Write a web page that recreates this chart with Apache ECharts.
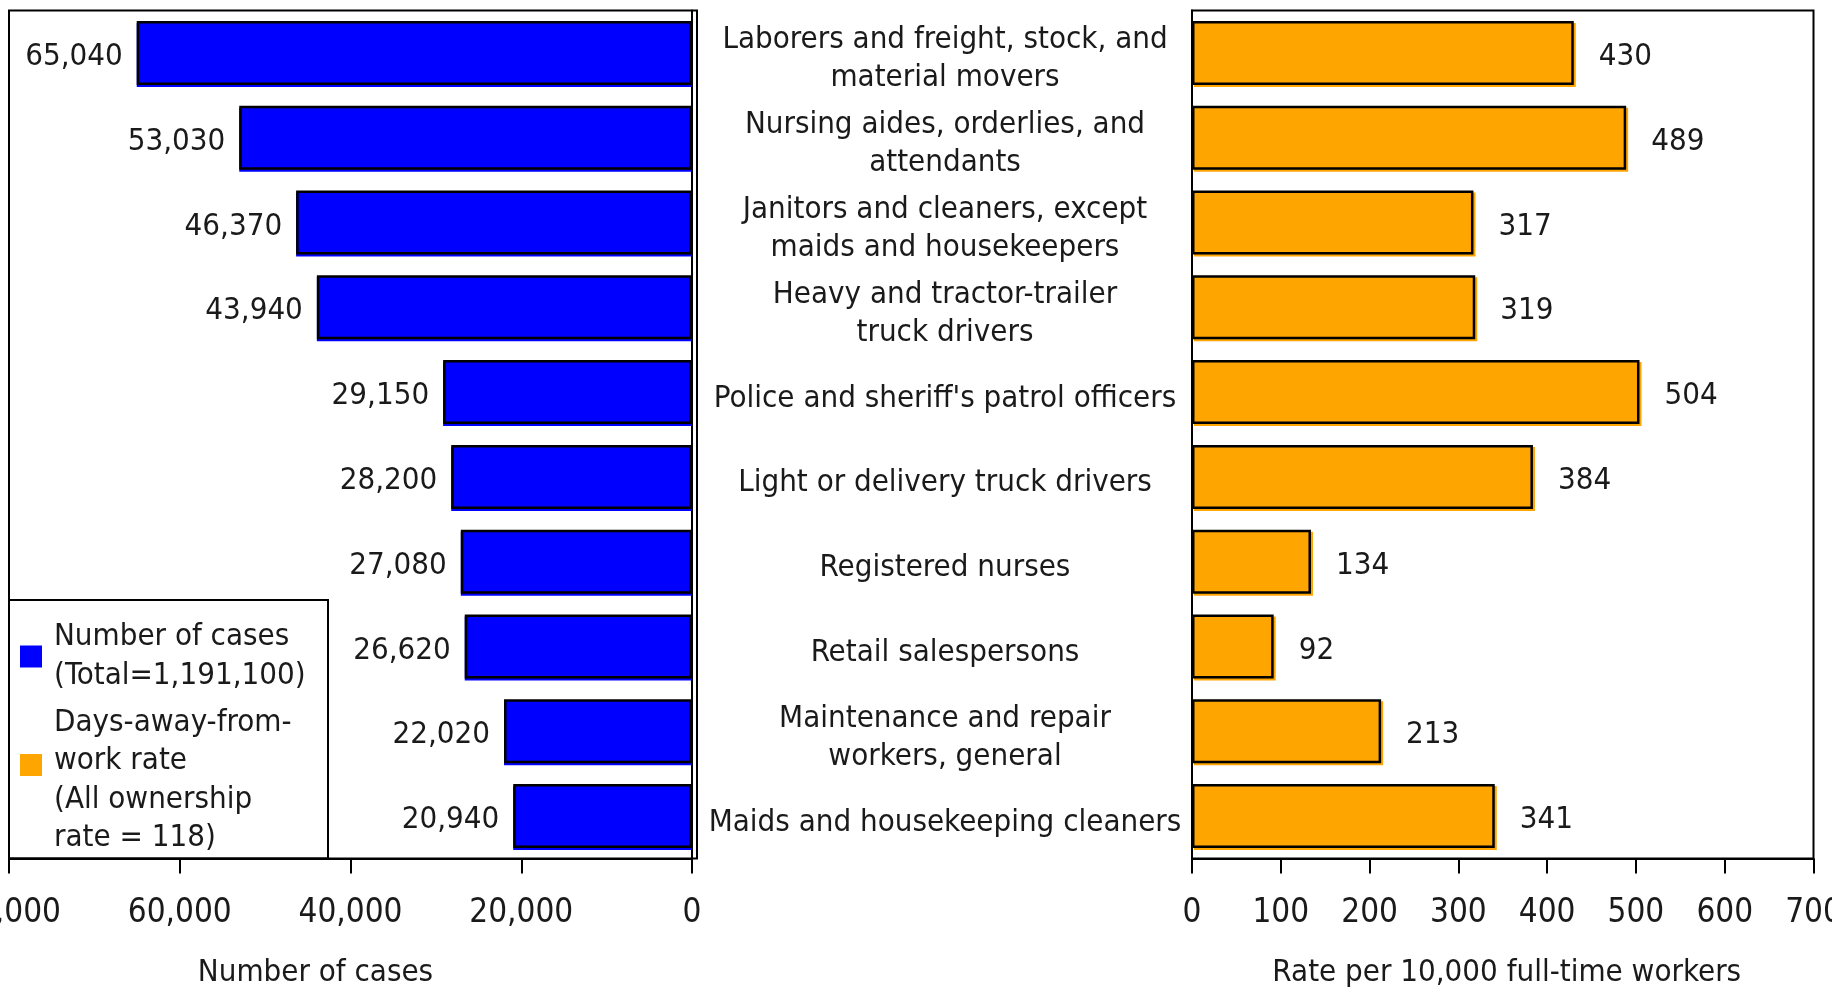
<!DOCTYPE html>
<html>
<head>
<meta charset="utf-8">
<script src="https://cdn.jsdelivr.net/npm/echarts@6/dist/echarts.min.js"></script>
<style>
html,body{margin:0;padding:0;background:#fff;}
#chart{width:1832px;height:989px;}
</style>
</head>
<body>
<div id="chart"></div>
<script>
const categories = [
  "Laborers and freight, stock, and\nmaterial movers",
  "Nursing aides, orderlies, and\nattendants",
  "Janitors and cleaners, except\nmaids and housekeepers",
  "Heavy and tractor-trailer\ntruck drivers",
  "Police and sheriff's patrol officers",
  "Light or delivery truck drivers",
  "Registered nurses",
  "Retail salespersons",
  "Maintenance and repair\nworkers, general",
  "Maids and housekeeping cleaners"
];
const casesValues = [65040, 53030, 46370, 43940, 29150, 28200, 27080, 26620, 22020, 20940];
const rateValues = [430, 489, 317, 319, 504, 384, 134, 92, 213, 341];
const seriesNames = ["Number of cases", "Days-away-from-work rate"];
const legendTexts = [
  "Number of cases\n(Total=1,191,100)",
  "Days-away-from-\nwork rate\n(All ownership\nrate = 118)"
];
const axisNames = ["Number of cases", "Rate per 10,000 full-time workers"];

const FONT = "'Liberation Sans Narrow', 'DejaVu Sans Condensed', 'Liberation Sans', sans-serif";
const TXT = '#1a1a1a';
const chart = echarts.init(document.getElementById('chart'));

const legendText = { fontSize: 31, lineHeight: 38.5, color: TXT, fontFamily: FONT, padding: [0, 0, 0, 7] };
const legendItemStyle = { borderWidth: 0, shadowBlur: 0, shadowColor: 'rgba(0,0,0,0)', shadowOffsetX: 0, shadowOffsetY: 0 };

const option = {
  animation: false,
  backgroundColor: '#fff',
  textStyle: { fontFamily: FONT, color: TXT },
  grid: [
    { left: 9, top: 10.5, width: 683, height: 848, outerBoundsMode: 'none', show: false },
    { left: 1192, top: 10.5, width: 621.5, height: 848, outerBoundsMode: 'none', show: true, borderColor: '#000', borderWidth: 2 },
    { left: 1192, top: 17, width: 621.5, height: 848, outerBoundsMode: 'none', show: false }
  ],
  xAxis: [
    {
      gridIndex: 0, type: 'value', inverse: true, min: 0, max: 80000, interval: 20000,
      axisLine: { show: true, lineStyle: { color: '#000', width: 2 } },
      axisTick: { show: true, inside: false, length: 15, lineStyle: { color: '#000', width: 2 } },
      splitLine: { show: false },
      axisLabel: { margin: 38, fontSize: 33, color: TXT, fontFamily: FONT,
        formatter: v => v.toLocaleString('en-US') },
      name: axisNames[0], nameLocation: 'middle', nameGap: 99,
      nameTextStyle: { fontSize: 31, color: TXT, fontFamily: FONT, padding: [0, 70, 0, 0] }
    },
    {
      gridIndex: 1, type: 'value', min: 0, max: 700, interval: 100,
      axisLine: { show: true, lineStyle: { color: '#000', width: 2 } },
      axisTick: { show: true, inside: false, length: 15, lineStyle: { color: '#000', width: 2 } },
      splitLine: { show: false },
      axisLabel: { margin: 38, fontSize: 33, color: TXT, fontFamily: FONT },
      name: axisNames[1], nameLocation: 'middle', nameGap: 99,
      nameTextStyle: { fontSize: 31, color: TXT, fontFamily: FONT, padding: [0, 0, 0, 8] }
    },
    {
      gridIndex: 2, type: 'value', min: 0, max: 700, show: false
    }
  ],
  yAxis: [
    {
      gridIndex: 0, type: 'category', inverse: true, position: 'right', data: categories,
      axisLine: { show: true, lineStyle: { color: '#000', width: 2 } },
      axisTick: { show: false }, axisLabel: { show: false }
    },
    {
      gridIndex: 1, type: 'category', inverse: true, position: 'left', data: categories,
      axisLine: { show: true, lineStyle: { color: '#000', width: 2 } },
      axisTick: { show: false }, axisLabel: { show: false }
    },
    {
      gridIndex: 2, type: 'category', inverse: true, position: 'left', data: categories,
      axisLine: { show: false }, axisTick: { show: false }, splitLine: { show: false },
      axisLabel: { show: true, align: 'center', margin: 247, fontSize: 31, lineHeight: 38,
        color: TXT, fontFamily: FONT, interval: 0 }
    }
  ],
  legend: [
    {
      orient: 'vertical', left: 20, top: 618, padding: 0,
      itemWidth: 22, itemHeight: 22, icon: 'rect',
      itemStyle: legendItemStyle,
      data: [seriesNames[0]],
      formatter: () => legendTexts[0],
      textStyle: legendText,
      selectedMode: false
    },
    {
      orient: 'vertical', left: 20, top: 703.5, padding: 0,
      itemWidth: 22, itemHeight: 53,
      icon: 'path://M0,0L22,0L22,22L0,22Z M0,52.9L0.02,52.9L0.02,53L0,53Z',
      itemStyle: legendItemStyle,
      data: [seriesNames[1]],
      formatter: () => legendTexts[1],
      textStyle: legendText,
      selectedMode: false
    }
  ],
  graphic: [
    { type: 'rect', z: 10, silent: true,
      shape: { x: 9, y: 10.5, width: 688, height: 848 },
      style: { fill: 'none', stroke: '#000', lineWidth: 2 } },
    { type: 'rect', z: 10, silent: true,
      shape: { x: 9, y: 600, width: 319, height: 258.5 },
      style: { fill: 'none', stroke: '#000', lineWidth: 2 } }
  ],
  series: [
    {
      name: seriesNames[0], type: 'bar', xAxisIndex: 0, yAxisIndex: 0,
      data: casesValues, barWidth: 64,
      itemStyle: { color: '#0000FF', borderColor: '#000', borderWidth: 2.5,
        shadowColor: '#0000FF', shadowOffsetX: 0, shadowOffsetY: 2, shadowBlur: 0 },
      label: { show: true, position: 'left', distance: 14, fontSize: 31, color: TXT, fontFamily: FONT,
        offset: [0, 4], formatter: p => p.value.toLocaleString('en-US') }
    },
    {
      name: seriesNames[1], type: 'bar', xAxisIndex: 1, yAxisIndex: 1,
      data: rateValues, barWidth: 64,
      itemStyle: { color: '#FFA500', borderColor: '#000', borderWidth: 2.5,
        shadowColor: '#FFA500', shadowOffsetX: 2, shadowOffsetY: 2, shadowBlur: 0 },
      label: { show: true, position: 'right', distance: 25, fontSize: 31, color: TXT, fontFamily: FONT,
        offset: [0, 4] }
    }
  ]
};
chart.setOption(option);
</script>
</body>
</html>
